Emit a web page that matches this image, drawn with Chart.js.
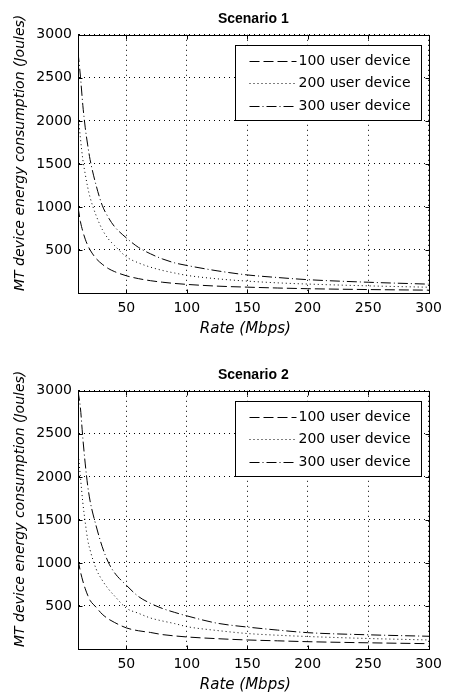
<!DOCTYPE html>
<html>
<head>
<meta charset="utf-8">
<script src="https://cdn.jsdelivr.net/npm/chart.js@4.4.1/dist/chart.umd.min.js"></script>
<style>
  body { margin: 0; background: #fff; }
  .box { position: absolute; left: 0; width: 449px; height: 337px; }
</style>
</head>
<body>
<div class="box" style="top:0"><canvas id="chart1" width="449" height="337"></canvas></div>
<div class="box" style="top:356px"><canvas id="chart2" width="449" height="337"></canvas></div>
<script>
// x values (Rate, Mbps)
const rate = [10, 12, 14, 16, 18, 20, 25, 30, 35, 40, 50, 60, 70, 80, 90, 100, 125, 150, 175, 200, 250, 300];

// Scenario 1 energy (Joules)
const s1User100 = [1000, 830, 715, 625, 555, 500, 400, 335, 285, 250, 200, 167, 143, 125, 111, 100, 80, 68, 58, 50, 40, 33];
const s1User200 = [2100, 1800, 1550, 1380, 1230, 1110, 900, 740, 630, 555, 420, 350, 300, 262, 232, 205, 165, 138, 118, 104, 83, 67];
const s1User300 = [2800, 2520, 2180, 1920, 1720, 1550, 1250, 1020, 880, 775, 640, 530, 455, 395, 350, 320, 258, 210, 180, 155, 125, 103];

// Scenario 2 energy (Joules)
const s2User100 = [1040, 900, 790, 700, 625, 565, 485, 405, 350, 310, 245, 212, 192, 167, 152, 140, 120, 105, 95, 85, 72, 62];
const s2User200 = [2300, 2000, 1700, 1470, 1270, 1150, 930, 800, 700, 620, 475, 415, 360, 325, 295, 260, 215, 180, 160, 145, 122, 105];
const s2User300 = [3000, 2800, 2450, 2150, 1900, 1720, 1430, 1190, 1010, 890, 740, 610, 530, 470, 425, 385, 300, 255, 220, 190, 165, 148];

const seriesLabels = ['100 user device', '200 user device', '300 user device'];
const xTicks = [50, 100, 150, 200, 250, 300];
const yTicks = [500, 1000, 1500, 2000, 2500, 3000];
const xTitle = 'Rate (Mbps)';
const yTitle = 'MT device energy consumption (Joules)';

const dashes = [[10, 4], [1, 3], [10, 3, 1, 3]];

Chart.defaults.font.family = "'DejaVu Sans', sans-serif";
Chart.defaults.font.size = 14;
Chart.defaults.color = '#000';

// frame, inward ticks, axis titles and the boxed legend (matlab look)
const matlabLook = {
    id: 'matlabLook',
    afterDatasetsDraw(chart) {
        const ctx = chart.ctx;
        const a = chart.chartArea;
        const l = Math.round(a.left) + 0.5, r = Math.round(a.right) + 0.5;
        const t = Math.round(a.top) + 0.5, b = Math.round(a.bottom) + 0.5;
        ctx.save();
        ctx.strokeStyle = '#000';
        ctx.lineWidth = 1;
        ctx.setLineDash([]);
        ctx.strokeRect(l, t, r - l, b - t);
        ctx.beginPath();
        chart.scales.x.ticks.forEach(tk => {
            const px = Math.round(chart.scales.x.getPixelForValue(tk.value)) + 0.5;
            ctx.moveTo(px, t); ctx.lineTo(px, t + 4);
            ctx.moveTo(px, b); ctx.lineTo(px, b - 4);
        });
        chart.scales.y.ticks.forEach(tk => {
            const py = Math.round(chart.scales.y.getPixelForValue(tk.value)) + 0.5;
            ctx.moveTo(l, py); ctx.lineTo(l + 4, py);
            ctx.moveTo(r, py); ctx.lineTo(r - 4, py);
        });
        ctx.stroke();

        // legend box
        const bx = Math.round(a.right - 194) + 0.5, by = Math.round(a.top + 10) + 0.5;
        ctx.fillStyle = '#fff';
        ctx.fillRect(bx, by, 186, 75);
        ctx.strokeRect(bx, by, 186, 75);
        const rows = [26, 48, 71.5];
        ctx.font = "14px 'DejaVu Sans'";
        ctx.fillStyle = '#000';
        ctx.textBaseline = 'middle';
        ctx.textAlign = 'left';
        chart.data.datasets.forEach((ds, i) => {
            const y = Math.round(a.top + rows[i]) + 0.5;
            ctx.setLineDash(ds.borderDash);
            ctx.beginPath();
            ctx.moveTo(bx + 14, y);
            ctx.lineTo(bx + 61, y);
            ctx.stroke();
            ctx.fillText(ds.label, bx + 63, y);
        });
        ctx.setLineDash([]);

        // axis titles
        ctx.font = "oblique 15px 'DejaVu Sans'";
        ctx.textAlign = 'center';
        ctx.fillText(xTitle, (a.left + a.right) / 2 - 8, 329);
        ctx.translate(20, (a.top + a.bottom) / 2 - 11);
        ctx.rotate(-Math.PI / 2);
        ctx.font = "oblique 14px 'DejaVu Sans'";
        ctx.fillText(yTitle, 0, 0);
        ctx.restore();
    }
};

function drawScenario(canvasId, title, user100, user200, user300) {
    const values = [user100, user200, user300];
    new Chart(document.getElementById(canvasId), {
        type: 'line',
        data: {
            datasets: values.map((arr, i) => ({
                label: seriesLabels[i],
                data: rate.map((x, j) => ({ x: x, y: arr[j] })),
                borderColor: '#000',
                borderWidth: 1,
                borderDash: dashes[i],
                pointRadius: 0,
                fill: false,
                cubicInterpolationMode: 'monotone'
            }))
        },
        options: {
            responsive: false,
            animation: false,
            layout: { padding: { left: 0, right: 14, top: 0, bottom: 0 } },
            plugins: {
                legend: { display: false },
                tooltip: { enabled: false },
                title: {
                    display: true,
                    text: title,
                    fullSize: false,
                    color: '#000',
                    font: { family: "'Liberation Sans', Arial, sans-serif", weight: 'bold', size: 14 },
                    padding: { top: 11, bottom: 7 }
                }
            },
            scales: {
                x: {
                    type: 'linear',
                    min: 10,
                    max: 300,
                    afterBuildTicks: s => { s.ticks = xTicks.map(v => ({ value: v })); },
                    afterFit: s => { s.height = 44; },
                    grid: { color: '#000', lineWidth: 1, drawTicks: false },
                    border: { display: true, color: '#000', dash: [1, 4] },
                    ticks: { padding: 7, maxRotation: 0, color: '#000', callback: v => String(v) }
                },
                y: {
                    min: 0,
                    max: 3000,
                    afterBuildTicks: s => { s.ticks = yTicks.map(v => ({ value: v })); },
                    afterFit: s => { s.width = 78; },
                    grid: { color: '#000', lineWidth: 1, drawTicks: false },
                    border: { display: true, color: '#000', dash: [1, 4] },
                    ticks: { padding: 6, color: '#000', callback: v => String(v) }
                }
            }
        },
        plugins: [matlabLook]
    });
}

drawScenario('chart1', 'Scenario 1', s1User100, s1User200, s1User300);
drawScenario('chart2', 'Scenario 2', s2User100, s2User200, s2User300);
</script>
</body>
</html>
